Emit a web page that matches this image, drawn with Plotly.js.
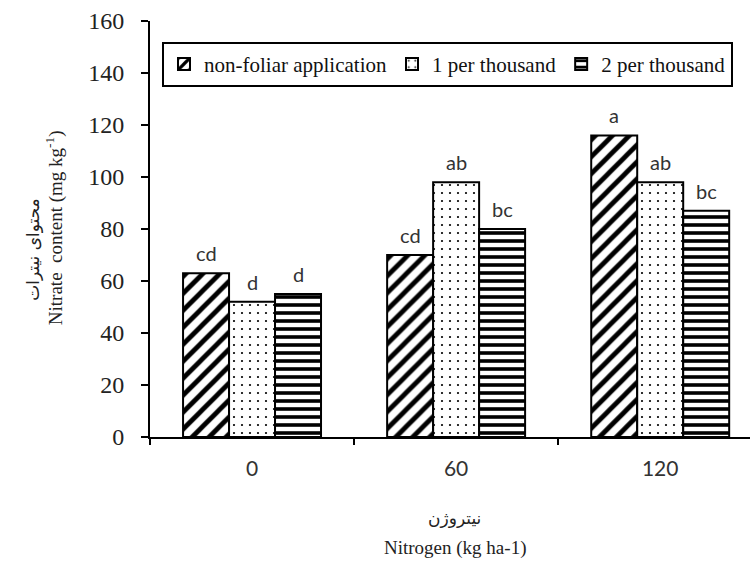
<!DOCTYPE html>
<html>
<head>
<meta charset="utf-8">
<script src="https://cdn.plot.ly/plotly-3.0.1.min.js"></script>
<style>html,body{margin:0;padding:0;background:#fff;}#chart{width:750px;height:561px;}</style>
</head>
<body>
<div id="chart"></div>
<script>
const categories = ["0", "60", "120"];
const seriesNames = ["non-foliar application", "1 per thousand", "2 per thousand"];
const nonFoliar = [63, 70, 116];
const onePerThousand = [52, 98, 98];
const twoPerThousand = [55, 80, 87];
const lettersNonFoliar = ["cd", "cd", "a"];
const lettersOne = ["d", "ab", "ab"];
const lettersTwo = ["d", "bc", "bc"];
const yTickVals = [0, 20, 40, 60, 80, 100, 120, 140, 160];

const patterns = [
  {shape: "/", size: 12, solidity: 0.4},
  {shape: ".", size: 8, solidity: 0.06},
  {shape: "-", size: 8, solidity: 0.45}
];
const values = [nonFoliar, onePerThousand, twoPerThousand];
const letters = [lettersNonFoliar, lettersOne, lettersTwo];

const SERIF = "Liberation Serif, Times New Roman, serif";
const SANS = "Lato, Open Sans, sans-serif";
const FA = "DejaVu Sans, sans-serif";

const traces = values.map((v, i) => ({
  type: "bar",
  name: seriesNames[i],
  x: categories,
  y: v,
  marker: {
    color: "white",
    line: {color: "black", width: 2},
    pattern: Object.assign({fgcolor: "black", bgcolor: "white", fillmode: "replace"}, patterns[i])
  },
  hoverinfo: "skip"
}));

// significance letters above each bar (x = category index on the category axis)
const barPx = 46;
const letterAnns = [];
values.forEach((v, i) => {
  v.forEach((val, j) => {
    letterAnns.push({
      x: j, y: val, xref: "x", yref: "y",
      text: letters[i][j], showarrow: false,
      xanchor: "center", yanchor: "bottom",
      xshift: (i - 1) * barPx, yshift: 6,
      font: {family: SANS, size: 20, color: "#333"}
    });
  });
});

const layout = {
  width: 750,
  height: 561,
  margin: {l: 150, r: 0, t: 21, b: 124},
  paper_bgcolor: "white",
  plot_bgcolor: "white",
  barmode: "group",
  bargap: 0.324,
  bargroupgap: 0,
  showlegend: true,
  legend: {
    orientation: "h",
    x: 0.02, xanchor: "left",
    y: 0.95, yanchor: "top",
    bgcolor: "white",
    bordercolor: "black",
    borderwidth: 2,
    font: {family: SERIF, size: 21, color: "#111"},
    traceorder: "normal",
    itemwidth: 30
  },
  xaxis: {
    type: "category",
    range: [-0.5, 2.44],
    showline: true, linecolor: "black", linewidth: 2,
    ticks: "outside", tickson: "boundaries", ticklen: 6, tickwidth: 2, tickcolor: "black",
    ticklabelstandoff: 12,
    tickfont: {family: SANS, size: 21, color: "#333"},
    showgrid: false, zeroline: false
  },
  yaxis: {
    range: [0, 160],
    tickvals: yTickVals,
    showline: true, linecolor: "black", linewidth: 2,
    ticks: "outside", ticklen: 7, tickwidth: 2, tickcolor: "black",
    ticklabelstandoff: 12,
    tickfont: {family: SERIF, size: 24, color: "#222"},
    showgrid: false, zeroline: false
  },
  annotations: letterAnns.concat([
    {text: "محتوای نیترات", xref: "paper", yref: "paper", x: -0.195, y: 0.45, textangle: -90,
     xanchor: "center", yanchor: "middle",
     showarrow: false, font: {family: FA, size: 17, color: "#222"}},
    {text: "Nitrate  content (mg kg<sup>-1</sup>)", xref: "paper", yref: "paper", x: -0.16, y: 0.502, textangle: -90,
     xanchor: "center", yanchor: "middle",
     showarrow: false, font: {family: SERIF, size: 19, color: "#222"}},
    {text: "نیتروژن", xref: "paper", yref: "paper", x: 0.508, y: -0.195,
     xanchor: "center", yanchor: "middle",
     showarrow: false, font: {family: FA, size: 17, color: "#222"}},
    {text: "Nitrogen (kg ha-1)", xref: "paper", yref: "paper", x: 0.508, y: -0.267,
     xanchor: "center", yanchor: "middle",
     showarrow: false, font: {family: SERIF, size: 19, color: "#222"}}
  ])
};

Plotly.newPlot("chart", traces, layout, {staticPlot: true, displayModeBar: false});
</script>
</body>
</html>
